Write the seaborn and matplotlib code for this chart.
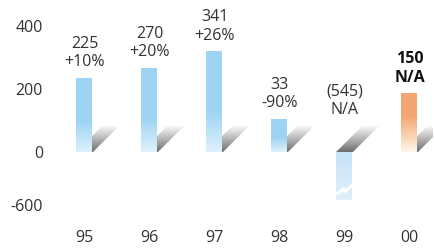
import numpy as np
import matplotlib
matplotlib.use("Agg")
import matplotlib.pyplot as plt
import seaborn as sns
import pandas as pd
from matplotlib.colors import to_rgb
from matplotlib.patches import Polygon

# Data (bar heights as drawn against the axis; the chart is not to scale)
years = ['95', '96', '97', '98', '99', '00']
bar_heights = [237, 268, 320, 107, -545, 187]
value_labels = ['225', '270', '341', '33', '(545)', '150']
change_labels = ['+10%', '+20%', '+26%', '-90%', 'N/A', 'N/A']
y_ticks = [400, 200, 0, -600]
y_tick_labels = ['400', '200', '0', '-600']

# negative side of the axis is compressed (broken axis)
K = 0.28
def fwd(y):
    y = np.asarray(y, dtype=float)
    return np.where(y < 0, y * K, y)
def inv(y):
    y = np.asarray(y, dtype=float)
    return np.where(y < 0, y / K, y)

sns.set_theme(style='white')
plt.rcParams['font.family'] = ['Open Sans', 'DejaVu Sans']
TXT = '#333333'

fig = plt.figure(figsize=(4.34, 2.48), dpi=100)
ax = fig.add_axes([50 / 434, 26 / 248, 384 / 434, 222 / 248])

df = pd.DataFrame({'year': years, 'height': bar_heights})
sns.barplot(data=df, x='year', y='height', width=0.26, color='#9dd4f3',
            errorbar=None, linewidth=0, ax=ax, zorder=3)

ax.set_yscale('function', functions=(fwd, inv))
ax.set_ylim(-791, 481)
ax.set_xlim(-0.531, 5.377)


def vgrad(c_top, c_bot, n, solid_frac):
    # rows from bottom (0) to top (n-1)
    t = np.linspace(0, 1, n)
    f = np.clip(t / max(1 - solid_frac, 1e-6), 0, 1)
    top = np.array(to_rgb(c_top))
    bot = np.array(to_rgb(c_bot))
    rows = bot[None, :] + (top - bot)[None, :] * f[:, None]
    return rows[:, None, :]


dx, dy = 0.415, 85
for i, p in enumerate(list(ax.patches)):
    x0 = p.get_x()
    w = p.get_width()
    h = bar_heights[i]
    p.set_facecolor('none')

    # diagonal shadow at the base
    shadow = Polygon([(x0, 0), (x0 + w, 0), (x0 + w + dx, dy), (x0 + dx, dy)],
                     closed=True, facecolor='none', edgecolor='none', zorder=1)
    ax.add_patch(shadow)
    g = np.linspace(0.40, 1.0, 100) ** 0.9
    simg = np.repeat(g[:, None], 2, axis=1)
    simg = np.stack([simg] * 3, axis=-1)
    im = ax.imshow(simg, extent=[x0, x0 + w + dx, 0, dy], origin='lower',
                   aspect='auto', zorder=1, interpolation='bilinear')
    im.set_clip_path(shadow)

    # gradient fill of the bar
    if h < 0:
        img = vgrad('#e0f0fb', '#c6e3f7', 100, 0.0)
        img = img[::-1]
        ext = [x0, x0 + w, h, 0]
    elif years[i] == '00':
        img = vgrad('#f4a672', '#fff6e8', 100, 0.4)
        ext = [x0, x0 + w, 0, h]
    else:
        img = vgrad('#9dd4f3', '#def0fc', 100, 0.6)
        ext = [x0, x0 + w, 0, h]
    bim = ax.imshow(img, extent=ext, origin='lower', aspect='auto',
                    zorder=2, interpolation='bilinear')
    bim.set_clip_path(p)

    if h < 0:
        # break symbol across the negative bar
        fx = np.array([0.0, 0.45, 0.52, 1.0])
        fy = np.array([0.88, 0.76, 0.82, 0.68])
        ax.plot(x0 + fx * w, h * fy, color='white', lw=2.2, zorder=4,
                solid_capstyle='butt')

    # value labels
    anchor = dy if h < 0 else h
    bold = years[i] == '00'
    ax.annotate(f'{value_labels[i]}\n{change_labels[i]}', (i, anchor),
                xytext=(0, 5), textcoords='offset points', ha='center',
                va='bottom', fontsize=11.5, linespacing=1.22,
                color='#111111' if bold else TXT,
                fontweight='bold' if bold else 'normal')

ax.set_yticks(y_ticks)
ax.set_yticklabels(y_tick_labels)
ax.set_xlabel('')
ax.set_ylabel('')
ax.tick_params(axis='both', length=0, labelsize=11.5, colors=TXT)
ax.tick_params(axis='y', pad=5)
ax.tick_params(axis='x', pad=6)
ax.grid(False)
for s in ax.spines.values():
    s.set_visible(False)

fig.savefig('out.png', dpi=100)
